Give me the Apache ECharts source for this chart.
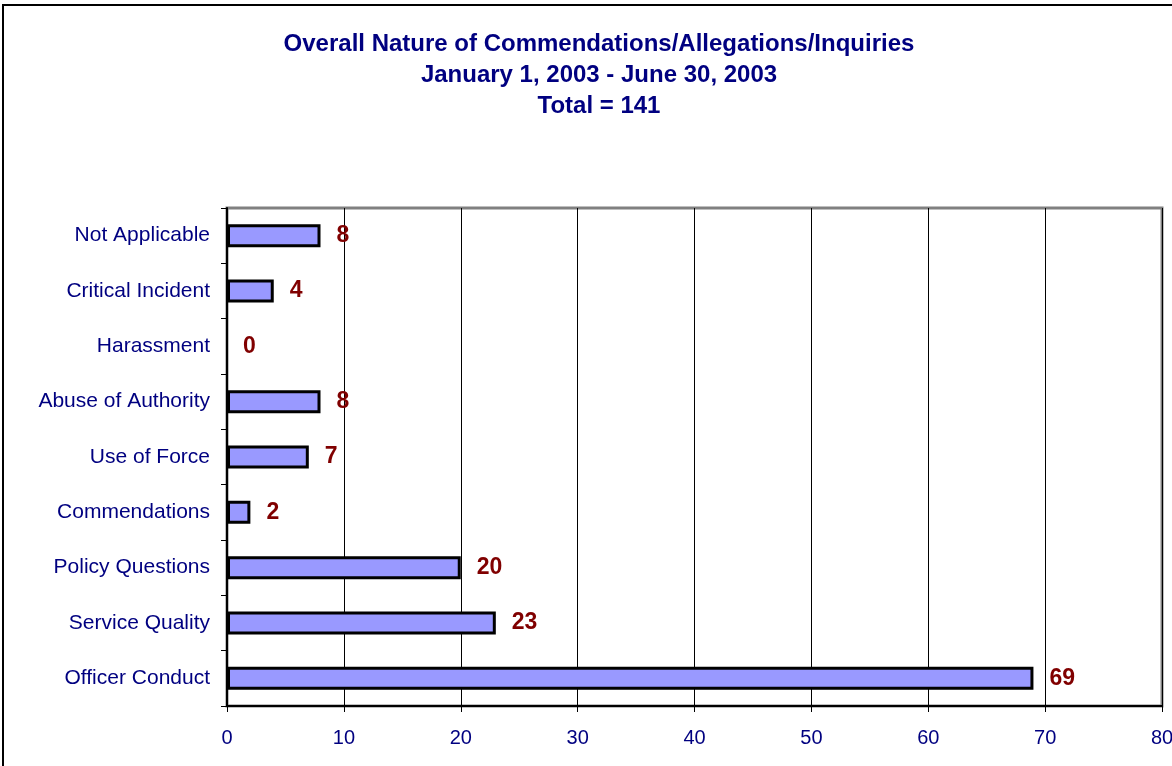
<!DOCTYPE html>
<html>
<head>
<meta charset="utf-8">
<style>
  html, body { margin: 0; padding: 0; background: #fff; }
  #chart { width: 1172px; height: 766px; }
</style>
<script src="https://cdn.jsdelivr.net/npm/echarts@6/dist/echarts.min.js"></script>
</head>
<body>
<div id="chart"></div>
<script>
  // categories listed bottom to top
  var categories = ['Officer Conduct', 'Service Quality', 'Policy Questions', 'Commendations',
    'Use of Force', 'Abuse of Authority', 'Harassment', 'Critical Incident', 'Not Applicable']
  var counts = [69, 23, 20, 2, 7, 8, 0, 4, 8]
  var titleLines = ['Overall Nature of Commendations/Allegations/Inquiries',
    'January 1, 2003 - June 30, 2003', 'Total = 141']

  var navy = '#000080'
  var font = '"Liberation Sans", Arial, sans-serif'

  // a zero bar has no outline in the original
  var barData = counts.map(function (v) {
    return v === 0 ? { value: v, itemStyle: { borderWidth: 0 } } : v
  })

  var chart = echarts.init(document.getElementById('chart'))
  chart.setOption({
    animation: false,
    textStyle: { fontFamily: font },
    title: {
      text: titleLines.join('\n'),
      left: 594,
      textAlign: 'center',
      top: 24,
      textStyle: { color: navy, fontSize: 24, fontWeight: 'bold', lineHeight: 31, fontFamily: font }
    },
    graphic: [{
      type: 'rect',
      shape: { x: 3, y: 5, width: 1300, height: 1000 },
      style: { fill: 'none', stroke: '#000', lineWidth: 2 },
      silent: true
    }],
    grid: {
      left: 227, right: 10, top: 208, bottom: 60,
      outerBoundsMode: 'none',
      containLabel: false,
      show: true, borderColor: '#808080', borderWidth: 3, backgroundColor: 'transparent'
    },
    xAxis: {
      type: 'value',
      min: 0, max: 80, interval: 10,
      axisLine: { show: true, onZero: false, lineStyle: { color: '#000', width: 2 } },
      axisTick: { show: true, length: 6, lineStyle: { color: '#000', width: 1 } },
      axisLabel: { color: navy, fontSize: 20, margin: 22, fontFamily: font },
      splitLine: { show: true, lineStyle: { color: '#000', width: 1 } }
    },
    yAxis: {
      type: 'category',
      data: categories,
      axisLine: { show: true, lineStyle: { color: '#000', width: 2 } },
      axisTick: { show: true, length: 6, lineStyle: { color: '#000', width: 1 } },
      axisLabel: { color: navy, fontSize: 21, margin: 17, fontFamily: font },
      splitLine: { show: false }
    },
    series: [{
      type: 'bar',
      data: barData,
      barWidth: 23,
      itemStyle: { color: '#9999ff', borderColor: '#000', borderWidth: 3 },
      label: {
        show: true,
        position: 'right',
        distance: 16,
        color: '#800000',
        fontSize: 23,
        fontWeight: 'bold',
        fontFamily: font
      }
    }]
  })
</script>
</body>
</html>
